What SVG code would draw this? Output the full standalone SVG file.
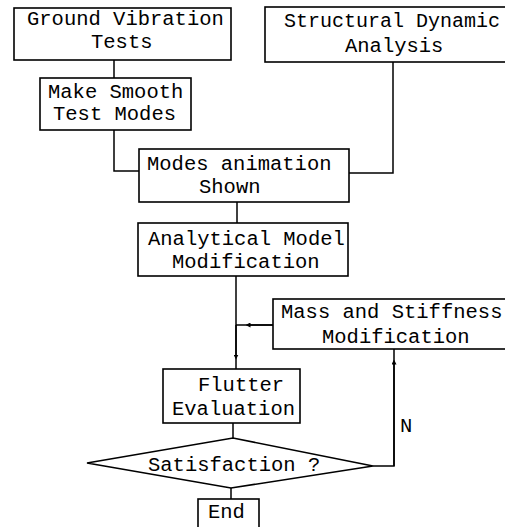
<svg xmlns="http://www.w3.org/2000/svg" width="505" height="527" viewBox="0 0 505 527">
<style>
.box{fill:#fff;stroke:#000;stroke-width:1.6}
.ln{fill:none;stroke:#000;stroke-width:1.5}
text{font-family:"Liberation Mono","DejaVu Sans Mono",monospace;font-size:20.5px;fill:#000}
</style>
<defs>
<marker id="ah" viewBox="0 0 6 6" refX="3" refY="3" markerWidth="5" markerHeight="5" orient="auto" markerUnits="userSpaceOnUse">
<path d="M0,0 L6,3 L0,6 z" fill="#000"/>
</marker>
</defs>
<rect width="505" height="527" fill="#fff"/>
<g id="connectors">
<path class="ln" d="M114,60 V78"/>
<path class="ln" d="M114,130 V171 H139"/>
<path class="ln" d="M393,62 V173 H349"/>
<path class="ln" d="M237,202 V223"/>
<path class="ln" d="M236,276 V369"/>
<path class="ln" d="M236,325 V357" marker-end="url(#ah)"/>
<path class="ln" d="M273,325 H236"/>
<path class="ln" d="M273,325 H248" marker-end="url(#ah)"/>
<path class="ln" d="M373,466 H394 V349"/>
<path class="ln" d="M394,466 V362" marker-end="url(#ah)"/>
<path class="ln" d="M233,423 V438"/>
<path class="ln" d="M231,488 V499"/>
<text x="400" y="432">N</text>
</g>
<g id="gvt">
<rect class="box" x="14" y="8" width="217" height="52"/>
<text x="27" y="25">Ground Vibration</text>
<text x="91" y="48">Tests</text>
</g>
<g id="sda">
<rect class="box" x="265" y="7" width="250" height="55"/>
<text x="284" y="27" style="font-size:20px">Structural Dynamic</text>
<text x="345" y="52">Analysis</text>
</g>
<g id="smooth">
<rect class="box" x="40" y="78" width="151" height="52"/>
<text x="48" y="98">Make Smooth</text>
<text x="53" y="120">Test Modes</text>
</g>
<g id="modes">
<rect class="box" x="139" y="149" width="210" height="53"/>
<text x="147" y="170">Modes animation</text>
<text x="199" y="193">Shown</text>
</g>
<g id="analytical">
<rect class="box" x="138" y="223" width="210" height="53"/>
<text x="148" y="245">Analytical Model</text>
<text x="172" y="268">Modification</text>
</g>
<g id="mass">
<rect class="box" x="273" y="299" width="245" height="50"/>
<text x="281" y="318">Mass and Stiffness</text>
<text x="322" y="343">Modification</text>
</g>
<g id="flutter">
<rect class="box" x="163" y="369" width="137" height="54"/>
<text x="198" y="391">Flutter</text>
<text x="172" y="415">Evaluation</text>
</g>
<g id="satisfaction">
<polygon class="box" points="87,463 233,438 373,466 231,488"/>
<text x="148" y="471">Satisfaction ?</text>
</g>
<g id="end">
<rect class="box" x="198" y="499" width="61" height="40"/>
<text x="208" y="518">End</text>
</g>
</svg>
